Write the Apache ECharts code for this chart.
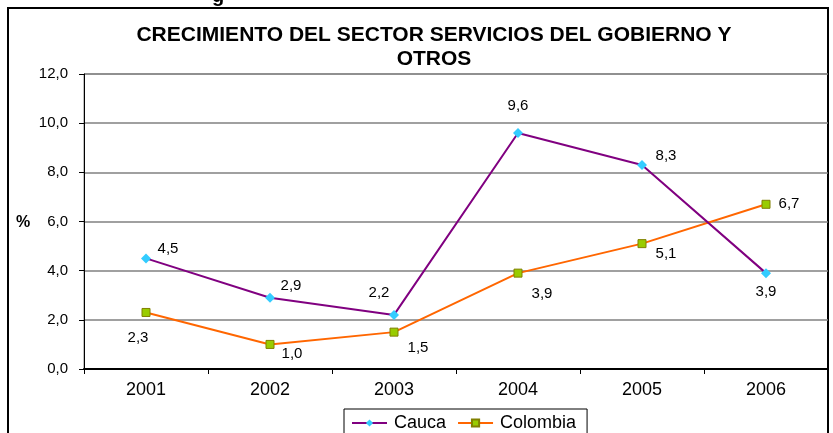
<!DOCTYPE html>
<html>
<head>
<meta charset="utf-8">
<script src="https://cdn.jsdelivr.net/npm/echarts@6/dist/echarts.min.js"></script>
<style>
  html, body { margin: 0; padding: 0; background: #fff; }
  #chart { width: 833px; height: 433px; }
</style>
</head>
<body>
<div id="chart"></div>
<script>
// datos del grafico
var years = ['2001', '2002', '2003', '2004', '2005', '2006'];
var cauca = [4.5, 2.9, 2.2, 9.6, 8.3, 3.9];
var colombia = [2.3, 1.0, 1.5, 3.9, 5.1, 6.7];
var yTicks = [0, 2, 4, 6, 8, 10, 12];

// desplazamiento de las etiquetas respecto al punto
var caucaLabelOffset = [[22, -10], [21, -12], [-15, -22], [0, -27], [24, -9], [0, 19]];
var colombiaLabelOffset = [[-8, 25], [22, 9], [24, 16], [24, 21], [24, 10], [23, 0]];

function fmt(v) {
    return v.toFixed(1).replace('.', ',');
}

function withLabels(values, offsets) {
    return values.map(function (v, i) {
        return {
            value: v,
            label: { position: 'inside', offset: offsets[i] }
        };
    });
}

var chart = echarts.init(document.getElementById('chart'));

var option = {
    backgroundColor: '#fff',
    animation: false,
    textStyle: { fontFamily: 'Liberation Sans, Arial, sans-serif' },
    title: {
        text: 'CRECIMIENTO DEL SECTOR SERVICIOS DEL GOBIERNO Y\nOTROS',
        left: 429,
        top: 18,
        textAlign: 'center',
        textStyle: {
            fontFamily: 'Liberation Sans, Arial, sans-serif',
            fontSize: 21,
            fontWeight: 'bold',
            color: '#000',
            lineHeight: 24
        }
    },
    legend: {
        left: 344,
        top: 409,
        padding: [5, 11, 5, 7],
        itemGap: 11,
        itemWidth: 35,
        itemHeight: 9,
        borderColor: '#000',
        borderWidth: 1,
        borderRadius: 0,
        textStyle: { fontSize: 18, color: '#000', padding: [0, 0, 0, 2] },
        data: ['Cauca', 'Colombia']
    },
    grid: {
        left: 84,
        right: 5,
        top: 74,
        bottom: 64,
        show: true,
        borderColor: '#808080',
        borderWidth: 1
    },
    xAxis: {
        type: 'category',
        data: years,
        boundaryGap: true,
        axisLine: { lineStyle: { color: '#000', width: 2 } },
        axisTick: { show: true, length: 5, lineStyle: { color: '#000', width: 1 } },
        axisLabel: { color: '#000', fontSize: 18, margin: 12 }
    },
    yAxis: {
        type: 'value',
        min: yTicks[0],
        max: yTicks[yTicks.length - 1],
        interval: 2,
        axisLine: { show: true, lineStyle: { color: '#000', width: 1 } },
        axisTick: { show: true, length: 5, lineStyle: { color: '#000' } },
        axisLabel: {
            color: '#000',
            fontSize: 15,
            margin: 16,
            formatter: function (v) { return fmt(v); }
        },
        splitLine: { show: true, lineStyle: { color: '#808080', width: 1.5 } }
    },
    graphic: [
        {
            // marco exterior
            type: 'rect',
            shape: { x: 8, y: 8, width: 820, height: 500 },
            style: { fill: 'none', stroke: '#000', lineWidth: 2 },
            silent: true
        },
        {
            type: 'text',
            left: 16,
            top: 215,
            style: {
                text: '%',
                fontSize: 16,
                fontWeight: 'bold',
                fontFamily: 'Liberation Sans, Arial, sans-serif',
                fill: '#000'
            }
        },
        {
            // resto del titulo de la figura, cortado arriba
            type: 'text',
            left: 212,
            top: -14,
            style: {
                text: 'g',
                fontSize: 20,
                fontWeight: 'bold',
                fontFamily: 'Liberation Sans, Arial, sans-serif',
                fill: '#000'
            }
        }
    ],
    series: [
        {
            name: 'Cauca',
            type: 'line',
            data: withLabels(cauca, caucaLabelOffset),
            symbol: 'diamond',
            symbolSize: 10,
            lineStyle: { color: '#800080', width: 2 },
            itemStyle: { color: '#33CCFF' },
            label: {
                show: true,
                color: '#000',
                fontSize: 15,
                formatter: function (p) { return fmt(p.value); }
            },
            z: 3
        },
        {
            name: 'Colombia',
            type: 'line',
            data: withLabels(colombia, colombiaLabelOffset),
            symbol: 'rect',
            symbolSize: 8,
            lineStyle: { color: '#FF6600', width: 2 },
            itemStyle: { color: '#99CC00', borderColor: '#808000', borderWidth: 1 },
            label: {
                show: true,
                color: '#000',
                fontSize: 15,
                formatter: function (p) { return fmt(p.value); }
            },
            z: 2
        }
    ]
};

chart.setOption(option);
</script>
</body>
</html>
